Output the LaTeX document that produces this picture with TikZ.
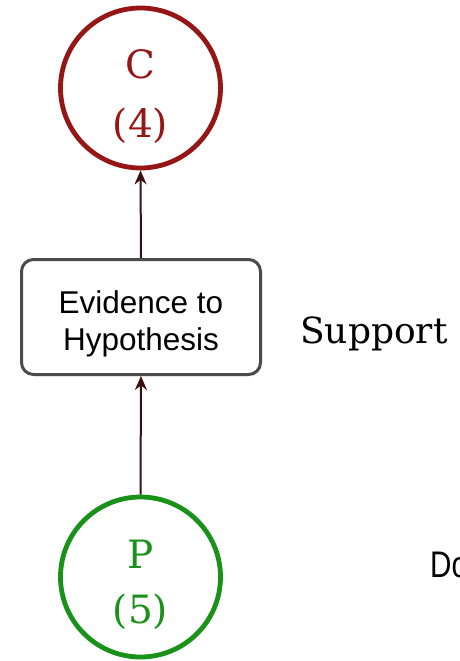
\documentclass[tikz,border=0pt]{standalone}
\usepackage{fontspec}
\setmainfont{DejaVu Serif}
\newfontfamily\boxfont{Liberation Sans}
\usetikzlibrary{shadows,arrows.meta}

\definecolor{claimred}{RGB}{150,22,22}
\definecolor{premgreen}{RGB}{26,146,26}
\definecolor{linkdark}{RGB}{60,16,16}
\definecolor{boxgray}{RGB}{75,75,75}

\tikzset{
  softshadow/.style={drop shadow={opacity=0.25, shadow xshift=1.5pt, shadow yshift=-1.5pt}},
  claimnode/.style={circle, draw=#1, line width=4.8pt, fill=white, minimum size=160pt, inner sep=0pt, softshadow},
  circtext/.style={anchor=base, inner sep=0pt, text=#1, font=\fontsize{39}{39}\selectfont},
  linkbox/.style={rectangle, rounded corners=12pt, draw=boxgray, line width=3pt, fill=white,
    minimum width=239pt, minimum height=115pt, inner sep=0pt, softshadow},
  boxtext/.style={anchor=base, inner sep=0pt, font=\boxfont\fontsize{31.5}{31.5}\selectfont},
  supportarrow/.style={draw=linkdark, line width=2pt, -{Stealth[length=14pt,width=12pt]}},
}

\begin{document}
\begin{tikzpicture}[x=1pt, y=-1pt]
  \useasboundingbox (0,0) rectangle (459,661);
  \fill[white] (0,0) rectangle (459,661);

  % conclusion
  \node[claimnode=claimred] (C) at (140.5,88) {};
  \node[circtext=claimred] (Cname) at (140.5,78) {C};
  \node[circtext=claimred] (Cnum) at (140.5,137) {(4)};

  % inference box
  \node[linkbox] (E) at (141,317) {};
  \node[boxtext] (Eline1) at (141,313) {Evidence to};
  \node[boxtext] (Eline2) at (141,350) {Hypothesis};

  % premise
  \node[claimnode=premgreen] (P) at (140.5,577) {};
  \node[circtext=premgreen] (Pname) at (140.5,568) {P};
  \node[circtext=premgreen] (Pnum) at (140.5,623) {(5)};

  % side labels
  \node[anchor=base west, inner sep=0pt, font=\fontsize{36}{36}\selectfont] (sup) at (300,343) {Support};
  \node[anchor=base west, inner sep=0pt, font=\boxfont\fontsize{37}{37}\selectfont, xscale=0.8, transform shape] (dlab) at (430,577) {Do};

  % connectors
  \draw[supportarrow] (P.north) -- (E.south);
  \draw[supportarrow] (E.north) -- (C.south);
\end{tikzpicture}
\end{document}
